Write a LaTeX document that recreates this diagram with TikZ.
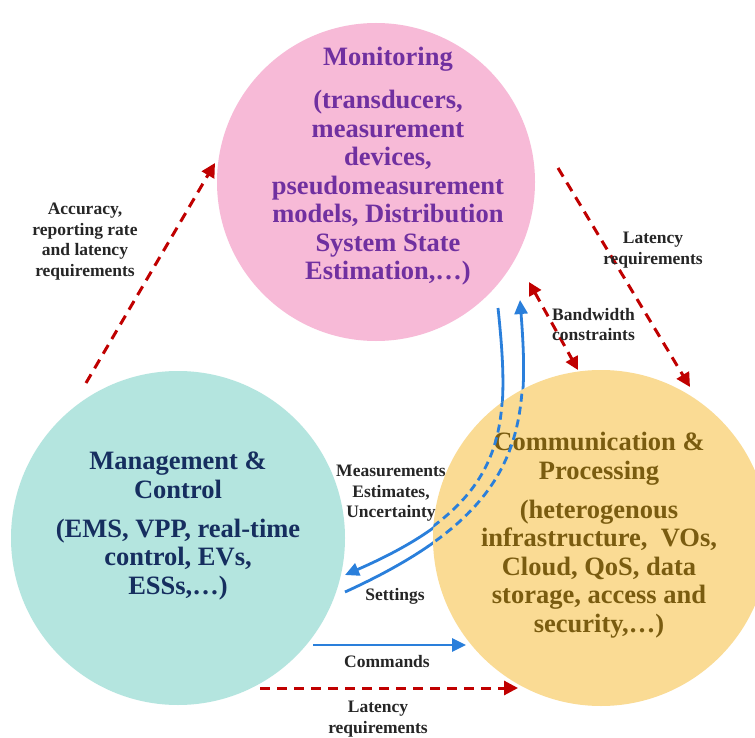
\documentclass[tikz,border=0pt]{standalone}
\usepackage{fontspec}
\setmainfont{Liberation Serif}
\usetikzlibrary{arrows.meta}
\definecolor{pinkfill}{RGB}{247,186,215}
\definecolor{tealfill}{RGB}{180,229,223}
\definecolor{orangefill}{RGB}{250,219,148}
\definecolor{montext}{RGB}{112,48,160}
\definecolor{mantext}{RGB}{22,46,95}
\definecolor{comtext}{RGB}{122,92,16}
\definecolor{reddash}{RGB}{192,0,0}
\definecolor{bluearrow}{RGB}{42,127,219}
\definecolor{labeltext}{RGB}{38,38,38}
\begin{document}
\begin{tikzpicture}[x=1pt,y=-1pt,
  circ/.style={circle, inner sep=0pt, draw=none},
  bigtxt/.style={align=center, inner sep=0pt, font=\fontsize{26.5}{28.5}\selectfont\bfseries},
  smalltxt/.style={align=center, inner sep=0pt, text=labeltext, font=\fontsize{17.5}{20.5}\selectfont\bfseries},
  redarrow/.style={draw=reddash, line width=3pt, dash pattern=on 10pt off 7pt, -{Triangle[length=14pt,width=14pt]}},
  redboth/.style={draw=reddash, line width=3pt, dash pattern=on 10pt off 7pt, {Triangle[length=13pt,width=13pt]}-{Triangle[length=13pt,width=13pt]}},
  bluesolid/.style={draw=bluearrow, line width=2.8pt, -{Triangle[length=14pt,width=13pt]}},
  bluedash/.style={draw=bluearrow, line width=2.8pt, dash pattern=on 8pt off 5pt}
]
\useasboundingbox (0,0) rectangle (755,738);
\fill[white] (0,0) rectangle (755,738);

% circles
\node[circ, fill=pinkfill, minimum size=318pt] (mon) at (376,182) {};
\node[circ, fill=tealfill, minimum size=334pt] (man) at (178,538) {};

% free ends of connectors
\coordinate (c1s) at (498,308);
\coordinate (c1e) at (345,575);
\coordinate (c2s) at (345,592);
\coordinate (c2e) at (520,300);
\coordinate (a1s) at (86,383);
\coordinate (a1e) at (215,163);
\coordinate (a2s) at (558,168);
\coordinate (a2e) at (690,387);
\coordinate (a3s) at (529,282);
\coordinate (a3e) at (578,370);
\coordinate (a4s) at (260,688);
\coordinate (a4e) at (518,688);
\coordinate (a5s) at (313,645);
\coordinate (a5e) at (466,645);

% blue curves (solid outside the Communication circle)
\draw[bluesolid] (c1s) .. controls (512,440) and (505,505) .. (c1e);
\draw[bluesolid] (c2s) .. controls (525,510) and (530,430) .. (c2e);

\node[circ, fill=orangefill, minimum size=336pt] (com) at (601,538) {};

% texts in circles
\node[bigtxt, text=montext, anchor=north] (montxt) at (388,47)
  {Monitoring\\[14.5pt](transducers,\\measurement\\devices,\\pseudomeasurement\\models, Distribution\\System State\\Estimation,…)};
\node[bigtxt, text=mantext, anchor=north] (mantxt) at (178,452)
  {Management \&\\Control\\[10.5pt](EMS, VPP, real-time\\control, EVs,\\ESSs,…)};
\node[bigtxt, text=comtext, anchor=north] (comtxt) at (599,432)
  {Communication \&\\Processing\\[10.5pt](heterogenous\\infrastructure,~ VOs,\\Cloud, QoS, data\\storage, access and\\security,…)};

% blue curves dashed inside the Communication circle
\begin{scope}
  \clip (com.center) circle[radius=168];
  \draw[bluedash] (c1s) .. controls (512,440) and (505,505) .. (c1e);
  \draw[bluedash] (c2s) .. controls (525,510) and (530,430) .. (c2e);
\end{scope}

% red dashed arrows
\draw[redarrow] (a1s) -- (a1e);
\draw[redarrow] (a2s) -- (a2e);
\draw[redboth] (a3s) -- (a3e);
\draw[redarrow] (a4s) -- (a4e);

% commands arrow
\draw[bluesolid] (a5s) -- (a5e);

% labels
\node[smalltxt, anchor=north] (l1) at (85,203) {Accuracy,\\reporting rate\\and latency\\requirements};
\node[smalltxt, anchor=north] (l2) at (653,232) {Latency\\requirements};
\node[smalltxt, align=left, anchor=north west] (l3) at (552,308) {Bandwidth\\constraints};
\node[smalltxt, anchor=north] (l4) at (391,465) {Measurements\\Estimates,\\Uncertainty};
\node[smalltxt, anchor=base] (l5) at (395,600) {Settings};
\node[smalltxt, anchor=base] (l6) at (387,667) {Commands};
\node[smalltxt, anchor=north] (l7) at (378,701) {Latency\\requirements};
\end{tikzpicture}
\end{document}
